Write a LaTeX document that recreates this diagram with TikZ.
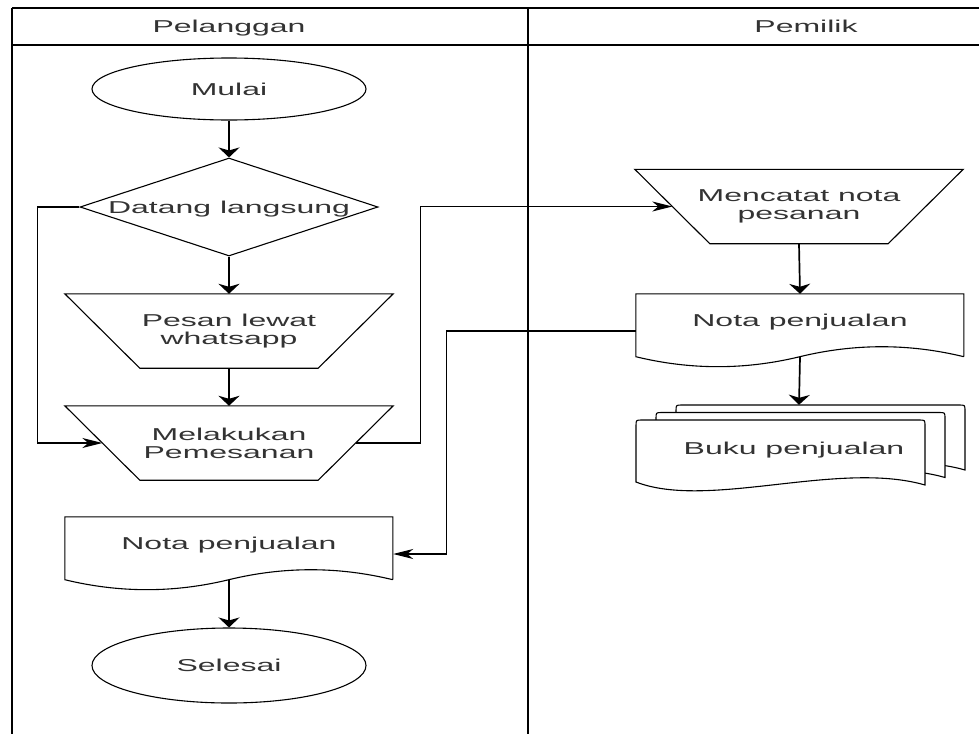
\documentclass[tikz,border=0pt]{standalone}
\usepackage{fontspec}
\usetikzlibrary{shapes.geometric,arrows.meta,calc}
\newfontfamily\lblfont{Liberation Sans}[FakeStretch=1.86]
\definecolor{txt}{HTML}{333333}
\newcommand\bukupage[2]{%
  \draw[shapeline, fill=white] (#1,#2+62) -- (#1,#2+6) .. controls (#1,#2) .. (#1+6,#2)
    -- (#1+283,#2) .. controls (#1+289,#2) .. (#1+289,#2+6) -- (#1+289,#2+65)
    .. controls (#1+202.3,#2+40) and (#1+72.25,#2+90) .. (#1,#2+62) -- cycle;}
\begin{document}
\begin{tikzpicture}[x=1pt,y=-1pt,
  lbl/.style={font=\lblfont\fontsize{17.2pt}{18pt}\selectfont, text=txt, align=center},
  oneline/.style={text height=12.3pt, text depth=0pt},
  shapeline/.style={draw=black, line width=1.1pt},
  frame/.style={draw=black, line width=1.6pt},
  box/.style={rectangle, draw=none, inner sep=0pt, minimum width=328pt, minimum height=74pt},
  term/.style={ellipse, shapeline, lbl, oneline, inner sep=0pt, minimum width=274pt},
  varr/.style={line width=1.7pt, -{Stealth[length=10pt,width=21pt,inset=3pt]}},
  harr/.style={line width=1.2pt, -{Stealth[length=20pt,width=10pt,inset=6pt]}}]
\useasboundingbox (0,0) rectangle (979,734);
% frame
\draw[frame] (12,8) -- (979,8);
\draw[frame] (12,45) -- (979,45);
\draw[frame] (12,8) -- (12,734);
\draw[frame] (528,8) -- (528,734);
\node[lbl, oneline] (hpel) at (229,26.5) {Pelanggan};
\node[lbl, oneline] (hpem) at (806,26.5) {Pemilik};
% left lane
\node[term, minimum height=62pt] (mulai) at (229,89) {Mulai};
\node[diamond, shapeline, lbl, oneline, aspect=3.04, inner sep=0pt,
      minimum width=298pt, minimum height=98pt] (dat) at (229,207) {Datang langsung};
\node[box, lbl] (pesan) at (229,331) {Pesan lewat\\whatsapp};
\draw[shapeline] (pesan.north west) -- (pesan.north east) -- ($(pesan.south east)+(-75,0)$)
  -- ($(pesan.south west)+(75,0)$) -- cycle;
\node[box, lbl] (mel) at (229,443) {Melakukan\\Pemesanan};
\draw[shapeline] (mel.north west) -- (mel.north east) -- ($(mel.south east)+(-75,0)$)
  -- ($(mel.south west)+(75,0)$) -- cycle;
\node[box, label={[lbl,oneline,yshift=11pt]center:Nota penjualan}] (notaL) at (229,554) {};
\begin{scope}[shift={(notaL.north west)}]
\draw[shapeline] (328,62.9) -- (328,0) -- (0,0) -- (0,62.9)
  .. controls (54.7,76.2) and (109.3,76.2) .. (164,62.9)
  .. controls (218.7,49.6) and (273.3,49.6) .. (328,62.9);
\end{scope}
\node[term, minimum height=75pt] (sel) at (229,665.5) {Selesai};
% right lane
\node[box, lbl] (menc) at (799,206.5) {Mencatat nota\\pesanan};
\draw[shapeline] (menc.north west) -- (menc.north east) -- ($(menc.south east)+(-75,0)$)
  -- ($(menc.south west)+(75,0)$) -- cycle;
\node[box, label={[lbl,oneline,yshift=11pt]center:Nota penjualan}] (notaR) at (800,331) {};
\begin{scope}[shift={(notaR.north west)}]
\draw[shapeline] (328,62.9) -- (328,0) -- (0,0) -- (0,62.9)
  .. controls (54.7,76.2) and (109.3,76.2) .. (164,62.9)
  .. controls (218.7,49.6) and (273.3,49.6) .. (328,62.9);
\end{scope}
\bukupage{676}{405}
\bukupage{656}{412.5}
\bukupage{636}{420}
\node[box, minimum width=326pt, minimum height=86pt,
      label={[lbl,oneline,xshift=-5pt]center:Buku penjualan}] (buku) at (799,448) {};
% connectors
\draw[varr] (mulai.south) -- (dat.north);
\draw[varr] (dat.south) -- (pesan.north);
\draw[varr] (pesan.south) -- (mel.north);
\draw[harr] (dat.west) -- ++(-42,0) |- ($(mel.west)+(37.5,0)$);
\draw[harr] ($(mel.east)+(-37.5,0)$) -- ++(65,0) |- ($(menc.west)+(37.5,0)$);
\draw[varr] (menc.south) -- (notaR.north);
\draw[harr] (notaR.west) -- ++(-189,0) |- (notaL.east);
\draw[varr] ($(notaR.south)+(0,-11.1)$) -- (buku.north);
\draw[varr] ($(notaL.south)+(0,-11.1)$) -- (sel.north);
\end{tikzpicture}
\end{document}
